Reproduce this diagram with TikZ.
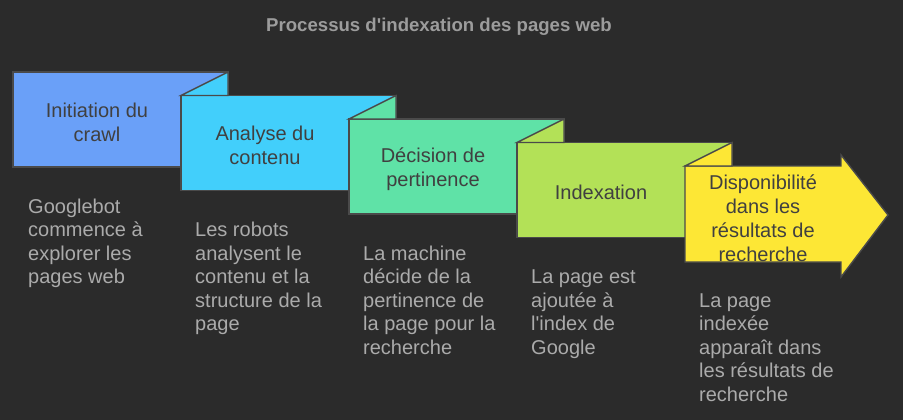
\documentclass[tikz,border=0pt]{standalone}
\usepackage{fontspec}
\setmainfont{Liberation Sans}
\definecolor{bgdark}{HTML}{2B2B2B}
\definecolor{edgegray}{HTML}{4A4A4A}
\definecolor{labelgray}{HTML}{404040}
\definecolor{notegray}{HTML}{ABABAB}
\definecolor{titlegray}{HTML}{9C9C9C}
\definecolor{crawlblue}{HTML}{6AA0F8}
\definecolor{contentcyan}{HTML}{42CFFB}
\definecolor{decisiongreen}{HTML}{5FE2A7}
\definecolor{indexlime}{HTML}{B3E157}
\definecolor{resultyellow}{HTML}{FDE735}
\begin{document}
\begin{tikzpicture}[x=1pt,y=-1pt,
    stepshape/.style={draw=edgegray, line width=1.4pt, line join=miter},
    steplabel/.style={text=labelgray, align=center, font=\fontsize{20}{24}\selectfont},
    stepnote/.style={text=notegray, align=left, anchor=base west, inner sep=0pt,
      font=\fontsize{20}{23.5}\selectfont},
    titletext/.style={text=titlegray, font=\bfseries\fontsize{18.6}{22}\selectfont}]
  \fill[bgdark] (0,0) rectangle (903,420);
  \useasboundingbox (0,0) rectangle (903,420);

  \node[titletext] (title) at (439,26.5) {Processus d\textquotesingle indexation des pages web};

  % ribbon of steps
  \filldraw[stepshape, fill=crawlblue] (13,72) rectangle (228,167);
  \filldraw[stepshape, fill=contentcyan] (181,95.5) rectangle (396,190.5);
  \filldraw[stepshape, fill=contentcyan] (181,95.5) -- (228,72) -- (228,95.5) -- cycle;
  \filldraw[stepshape, fill=decisiongreen] (349,119) rectangle (564,214);
  \filldraw[stepshape, fill=decisiongreen] (349,119) -- (396,95.5) -- (396,119) -- cycle;
  \filldraw[stepshape, fill=indexlime] (517,142.5) rectangle (732,237.5);
  \filldraw[stepshape, fill=indexlime] (517,142.5) -- (564,119) -- (564,142.5) -- cycle;
  \filldraw[stepshape, fill=resultyellow]
    (685,166) -- (841,166) -- (841,155) -- (888,215) -- (841,277) -- (841,262)
    -- (685,262) -- cycle;
  \filldraw[stepshape, fill=resultyellow] (685,166) -- (732,142.5) -- (732,166) -- cycle;

  \node[steplabel] (crawl) at (97,122) {Initiation du\\crawl};
  \node[steplabel] (analyse) at (265,145.5) {Analyse du\\contenu};
  \node[steplabel] (decision) at (433,169) {Décision de\\pertinence};
  \node[steplabel] (indexation) at (601,192.5) {Indexation};
  \node[steplabel] (dispo) at (763,218) {Disponibilité\\dans les\\résultats de\\recherche};

  % notes: base anchor sits on the last line
  \node[stepnote] (crawlnote) at (28,283.5) {Googlebot\\commence à\\explorer les\\pages web};
  \node[stepnote] (analysenote) at (195,330.5) {Les robots\\analysent le\\contenu et la\\structure de la\\page};
  \node[stepnote] (decisionnote) at (363,354) {La machine\\décide de la\\pertinence de\\la page pour la\\recherche};
  \node[stepnote] (indexationnote) at (531,354) {La page est\\ajoutée à\\l\textquotesingle index de\\Google};
  \node[stepnote] (disponote) at (699,401) {La page\\indexée\\apparaît dans\\les résultats de\\recherche};
\end{tikzpicture}
\end{document}
